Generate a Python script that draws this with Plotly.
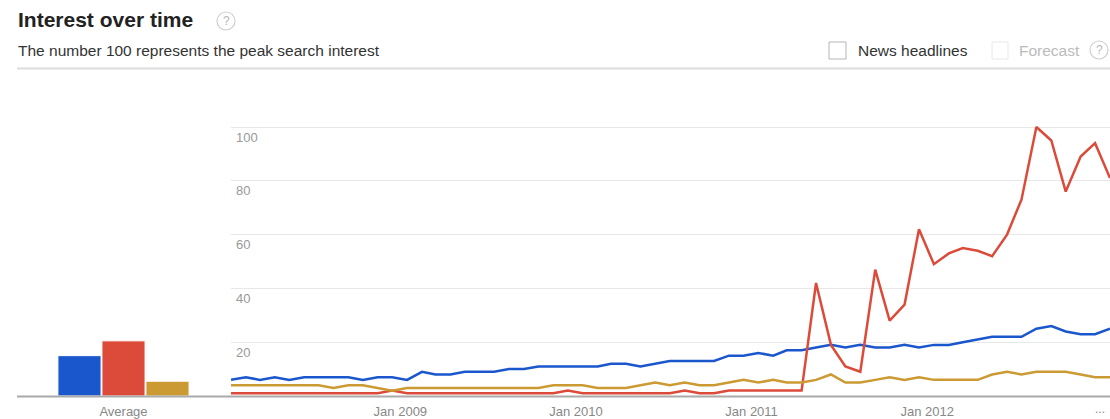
import plotly.graph_objects as go

W, H = 1110, 419


def px(x):
    return x / W


def py(y):
    return 1 - y / H


# ---- data -------------------------------------------------------------
months = [f"{2008 + i // 12}-{i % 12 + 1:02d}-15" for i in range(61)]

blue = [6, 7, 6, 7, 6, 7, 7, 7, 7, 6, 7, 7, 6, 9,
        8, 8, 9, 9, 9, 10, 10, 11, 11, 11, 11, 11, 12, 12, 11, 12,
        13, 13, 13, 13, 15, 15, 16, 15, 17, 17, 18, 19, 18, 19, 18, 18, 19, 18, 19, 19,
        20, 21, 22, 22, 22, 25, 26, 24, 23, 23, 25]

red = [1, 1, 1, 1, 1, 1, 1, 1, 1, 1, 1,
       2,
       1, 1, 1, 1, 1, 1, 1, 1, 1, 1, 1,
       2,
       1, 1, 1, 1, 1, 1, 1,
       2,
       1, 1,
       2, 2, 2, 2, 2, 2,
       42, 19, 11, 9, 47, 28, 34, 62, 49, 53, 55, 54, 52, 60, 73, 100, 95, 76, 89, 94, 81]

gold = [4, 4, 4, 4, 4, 4, 4, 3, 4, 4, 3, 2,
        3, 3, 3, 3, 3, 3, 3, 3, 3, 3,
        4, 4, 4, 3, 3, 3, 4, 5, 4, 5, 4, 4, 5, 6, 5, 6, 5, 5, 6, 8, 5, 5, 6, 7, 6, 7,
        6, 6, 6, 6, 8, 9, 8, 9, 9, 9, 8, 7, 7]

avg_labels = ["Average"]
avg_blue = [15]
avg_red = [20.5]
avg_gold = [5.5]

tick_dates = ["2009-01-01", "2010-01-01", "2011-01-01", "2012-01-01"]
tick_text = ["Jan 2009", "Jan 2010", "Jan 2011", "Jan 2012"]
y_ticks = [20, 40, 60, 80, 100]

# ---- style ------------------------------------------------------------
C_BLUE = "#1a56cc"
C_RED = "#dc4b3a"
C_GOLD = "#cc9a33"
FONT = "Arial, 'Liberation Sans', sans-serif"

fig = go.Figure()

for vals, col in ((blue, C_BLUE), (red, C_RED), (gold, C_GOLD)):
    fig.add_trace(go.Scatter(x=months, y=vals, mode="lines",
                             line=dict(color=col, width=2.5),
                             xaxis="x", yaxis="y", hoverinfo="skip"))

for vals, col in ((avg_blue, C_BLUE), (avg_red, C_RED), (avg_gold, C_GOLD)):
    fig.add_trace(go.Bar(x=avg_labels, y=vals, marker=dict(color=col, line=dict(color="white", width=1)),
                         xaxis="x2", yaxis="y2", hoverinfo="skip"))

y_bottom = 396
px_per_unit = (396 - 127) / 100.0
y_top_val = 105
y_dom = [py(y_bottom), py(y_bottom - y_top_val * px_per_unit)]

fig.update_layout(
    width=W, height=H,
    margin=dict(l=0, r=0, t=0, b=0),
    paper_bgcolor="white", plot_bgcolor="white",
    showlegend=False,
    barmode="group", bargap=0.1, bargroupgap=0.02,
    font=dict(family=FONT, size=13, color="#888"),
    xaxis=dict(domain=[px(231), 1], type="date",
               range=["2008-01-15", "2013-01-15"],
               tickmode="array", tickvals=tick_dates, ticktext=tick_text,
               showgrid=False, zeroline=False, showline=False, ticks="",
               ticklabelstandoff=6,
               tickfont=dict(size=13, color="#888", family=FONT),
               anchor="y", fixedrange=True),
    yaxis=dict(domain=y_dom, range=[0, y_top_val],
               tickmode="array", tickvals=y_ticks, showticklabels=False,
               showgrid=True, gridcolor="#e8e8e8", gridwidth=1,
               zeroline=False, showline=False, ticks="",
               anchor="x", fixedrange=True),
    xaxis2=dict(domain=[px(17), px(231)], type="category",
                range=[-0.726, 0.733],
                showgrid=False, zeroline=False, showline=False, ticks="",
                ticklabelstandoff=6,
                tickfont=dict(size=13, color="#888", family=FONT),
                anchor="y2", fixedrange=True),
    yaxis2=dict(domain=y_dom, range=[0, y_top_val], visible=False,
                anchor="x2", fixedrange=True),
)

shapes = []
annotations = []

# baseline
shapes.append(dict(type="line", xref="paper", yref="paper",
                   x0=px(17), x1=1, y0=py(396.5), y1=py(396.5),
                   line=dict(color="#aaaaaa", width=2)))
# separator under header
shapes.append(dict(type="line", xref="paper", yref="paper",
                   x0=px(17), x1=1, y0=py(68.5), y1=py(68.5),
                   line=dict(color="#dddddd", width=2)))


def help_icon(cx, cy, r=9):
    shapes.append(dict(type="circle", xref="paper", yref="paper",
                       x0=px(cx - r), x1=px(cx + r), y0=py(cy + r), y1=py(cy - r),
                       line=dict(color="#d0d0d0", width=1.2), fillcolor="white"))
    annotations.append(dict(text="?", xref="paper", yref="paper",
                            x=px(cx), y=py(cy), xanchor="center", yanchor="middle",
                            showarrow=False, font=dict(size=12, color="#b8b8b8", family=FONT)))


help_icon(226, 21)
help_icon(1099, 50)

# checkboxes
shapes.append(dict(type="rect", xref="paper", yref="paper",
                   x0=px(829), x1=px(846), y0=py(59), y1=py(42),
                   line=dict(color="#b5b5b5", width=1), fillcolor="white"))
shapes.append(dict(type="rect", xref="paper", yref="paper",
                   x0=px(992), x1=px(1008), y0=py(59), y1=py(42),
                   line=dict(color="#e8e8e8", width=1), fillcolor="white"))

annotations += [
    dict(text="<b>Interest over time</b>", xref="paper", yref="paper",
         x=px(16), y=py(20), xanchor="left", yanchor="middle", showarrow=False,
         font=dict(size=21, color="#222", family=FONT)),
    dict(text="The number 100 represents the peak search interest", xref="paper", yref="paper",
         x=px(16), y=py(51), xanchor="left", yanchor="middle", showarrow=False,
         font=dict(size=15.5, color="#333", family=FONT)),
    dict(text="News headlines", xref="paper", yref="paper",
         x=px(856), y=py(50), xanchor="left", yanchor="middle", showarrow=False,
         font=dict(size=15.5, color="#333", family=FONT)),
    dict(text="Forecast", xref="paper", yref="paper",
         x=px(1017), y=py(50), xanchor="left", yanchor="middle", showarrow=False,
         font=dict(size=15.5, color="#bbb", family=FONT)),
    dict(text="...", xref="paper", yref="paper",
         x=px(1100), y=py(409), xanchor="center", yanchor="middle", showarrow=False,
         font=dict(size=12, color="#888", family=FONT)),
]

for v in y_ticks:
    annotations.append(dict(text=str(v), xref="paper", yref="y",
                            x=px(234), y=v, xanchor="left", yanchor="middle",
                            yshift=-10, showarrow=False,
                            font=dict(size=13, color="#999", family=FONT)))

fig.update_layout(shapes=shapes, annotations=annotations)

fig.write_html("out.html", config={"displayModeBar": False, "staticPlot": True})
